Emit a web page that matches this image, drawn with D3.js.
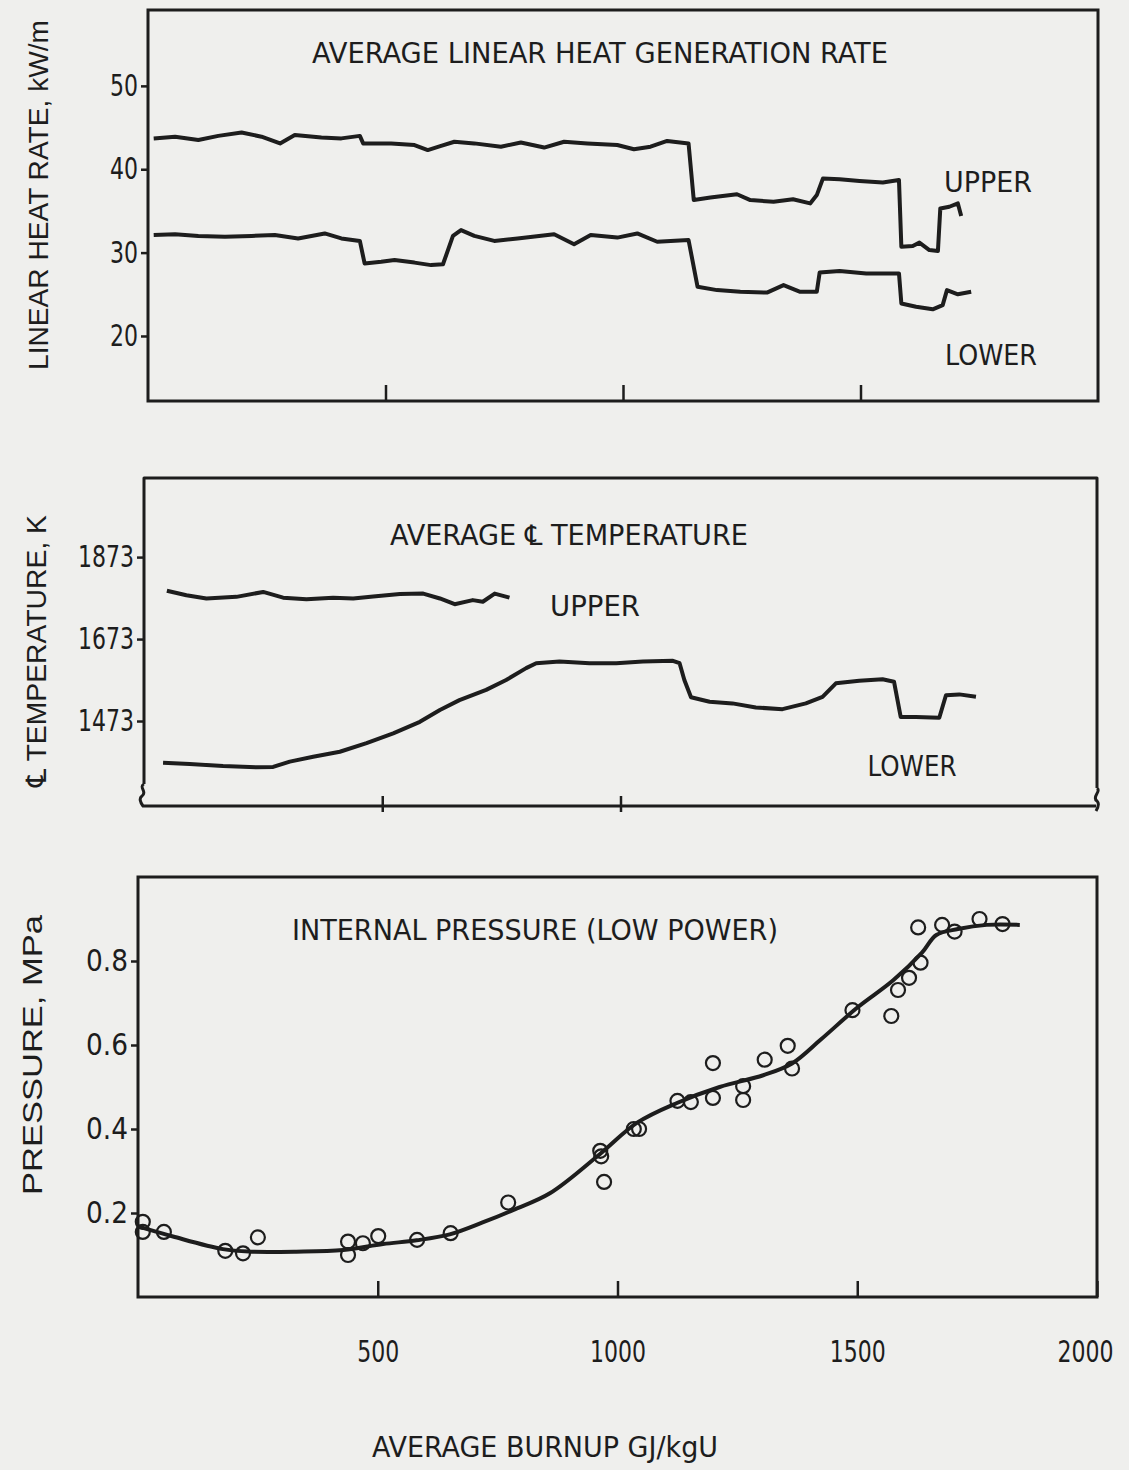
<!DOCTYPE html>
<html>
<head>
<meta charset="utf-8">
<script src="https://cdn.jsdelivr.net/npm/d3@7"></script>
<style>
  body { margin: 0; background: #efefed; }
  svg text { fill: #1d1d1d; }
</style>
</head>
<body>
<div id="chart"></div>
<script>
const W = 1129, H = 1470;
const ink = "#1d1d1d";
const narrow = "'Liberation Sans Narrow', 'DejaVu Sans Condensed', sans-serif";
const wide = "'Liberation Sans', 'DejaVu Sans', sans-serif";

// tick values
const xTicks = [500, 1000, 1500, 2000];
const heatTicks = [20, 30, 40, 50];
const tempTicks = [1473, 1673, 1873];
const pressTicks = [0.2, 0.4, 0.6, 0.8];

// linear heat rate (kW/m) vs burnup (GJ/kgU)
const heatUpper = [
  [12, 43.7], [57, 43.9], [106, 43.5], [148, 44.0], [197, 44.4], [239, 43.9], [278, 43.1],
  [309, 44.1], [365, 43.8], [407, 43.7], [446, 44.0], [453, 43.1], [512, 43.1], [561, 42.9],
  [589, 42.3], [617, 42.8], [645, 43.3], [687, 43.1], [743, 42.7], [785, 43.2], [834, 42.6],
  [876, 43.3], [925, 43.1], [988, 42.9], [1023, 42.4], [1058, 42.7], [1093, 43.4], [1138, 43.1],
  [1149, 36.3], [1184, 36.6], [1240, 37.0], [1268, 36.3], [1317, 36.1], [1358, 36.4], [1394, 35.9],
  [1408, 36.9], [1421, 38.9], [1456, 38.8], [1498, 38.6], [1547, 38.4], [1581, 38.7],
  [1586, 30.7], [1610, 30.8], [1624, 31.2], [1645, 30.3], [1663, 30.2],
  [1668, 35.3], [1687, 35.5], [1705, 35.9], [1712, 34.4]
];
const heatLower = [
  [12, 32.1], [57, 32.2], [106, 32.0], [162, 31.9], [218, 32.0], [267, 32.1], [316, 31.7],
  [372, 32.3], [407, 31.7], [446, 31.4], [456, 28.7], [491, 28.9], [519, 29.1], [561, 28.8],
  [596, 28.5], [621, 28.6], [642, 32.0], [659, 32.7], [687, 32.0], [729, 31.4], [778, 31.7],
  [855, 32.2], [897, 31.0], [932, 32.1], [988, 31.8], [1030, 32.3], [1072, 31.3], [1138, 31.5],
  [1157, 25.9], [1198, 25.5], [1247, 25.3], [1303, 25.2], [1338, 26.1], [1373, 25.3], [1408, 25.3],
  [1414, 27.6], [1456, 27.8], [1512, 27.5], [1581, 27.5], [1586, 23.9], [1617, 23.5],
  [1652, 23.2], [1673, 23.7], [1682, 25.5], [1705, 25.0], [1733, 25.3]
];

// centreline temperature (K) vs burnup
const tempUpper = [
  [48, 1791], [89, 1780], [131, 1772], [194, 1776], [250, 1788], [292, 1774], [341, 1770],
  [397, 1774], [439, 1772], [481, 1777], [537, 1783], [586, 1784], [621, 1772], [652, 1758],
  [690, 1768], [711, 1764], [736, 1784], [767, 1774]
];
const tempLower = [
  [40, 1371], [96, 1368], [166, 1363], [236, 1360], [271, 1361], [306, 1374], [355, 1386],
  [411, 1398], [467, 1419], [523, 1443], [579, 1471], [621, 1500], [662, 1524], [718, 1549],
  [760, 1573], [802, 1602], [823, 1614], [872, 1618], [935, 1614], [991, 1614], [1047, 1618],
  [1110, 1620], [1124, 1614], [1134, 1573], [1148, 1531], [1187, 1520], [1235, 1516],
  [1284, 1506], [1340, 1502], [1389, 1516], [1424, 1532], [1452, 1565], [1501, 1571],
  [1550, 1575], [1574, 1569], [1588, 1483], [1620, 1483], [1669, 1481], [1683, 1536],
  [1711, 1538], [1746, 1532]
];

// internal pressure (MPa): measurements and fitted curve
const pressPoints = [
  [10, 0.179], [10, 0.155], [54, 0.155], [182, 0.110], [219, 0.104], [250, 0.142],
  [438, 0.132], [438, 0.100], [469, 0.128], [501, 0.145], [582, 0.136], [652, 0.152],
  [772, 0.225], [964, 0.348], [966, 0.335], [972, 0.274], [1034, 0.400], [1045, 0.400],
  [1125, 0.467], [1153, 0.464], [1199, 0.557], [1199, 0.474], [1262, 0.502], [1262, 0.469],
  [1307, 0.565], [1355, 0.598], [1364, 0.544], [1490, 0.683], [1571, 0.669], [1585, 0.731],
  [1608, 0.760], [1632, 0.796], [1627, 0.880], [1677, 0.886], [1703, 0.870], [1755, 0.900],
  [1803, 0.888]
];
const pressFit = [
  [0, 0.168], [73, 0.144], [177, 0.114], [233, 0.108], [330, 0.108], [428, 0.112],
  [511, 0.126], [581, 0.135], [650, 0.149], [720, 0.178], [782, 0.207], [859, 0.247],
  [963, 0.340], [1041, 0.415], [1124, 0.462], [1213, 0.500], [1304, 0.528], [1364, 0.556],
  [1424, 0.613], [1499, 0.688], [1575, 0.754], [1635, 0.820], [1665, 0.862], [1710, 0.876],
  [1770, 0.886], [1839, 0.886]
];

const svg = d3.select("#chart").append("svg")
    .attr("width", W)
    .attr("height", H)
    .style("background", "#efefed");

// three stacked panels sharing the burnup axis
const x1 = d3.scaleLinear().domain([0, 2000]).range([148, 1098]);
const y1 = d3.scaleLinear().domain([12.2, 59.1]).range([401, 10]);
const x2 = d3.scaleLinear().domain([0, 2000]).range([144, 1097]);
const y2 = d3.scaleLinear().domain([1251, 2066]).range([812, 478]);
const x3 = d3.scaleLinear().domain([0, 2000]).range([138, 1097]);
const y3 = d3.scaleLinear().domain([0, 1]).range([1297, 877]);

function styleAxis(g, size) {
    g.select(".domain").remove();
    g.selectAll("line").attr("stroke", ink).attr("stroke-width", 2.5);
    g.selectAll("text")
        .attr("font-family", narrow)
        .attr("font-size", size)
        .attr("fill", ink)
        // squeeze digits to the condensed look of the original
        .each(function () {
            const s = this.textContent;
            if (s) d3.select(this).attr("textLength", s.length * 14).attr("lengthAdjust", "spacingAndGlyphs");
        });
}

function yAxis(y, x, ticks, fmt) {
    svg.append("g")
        .attr("transform", `translate(${x.range()[0]},0)`)
        .call(d3.axisLeft(y).tickValues(ticks).tickSize(7).tickPadding(3).tickFormat(fmt))
        .call(g => styleAxis(g, 30));
}

function xAxis(x, y, ticks, labels) {
    svg.append("g")
        .attr("transform", `translate(0,${y.range()[0]})`)
        .call(d3.axisBottom(x).tickValues(ticks).tickSize(-16).tickPadding(44)
            .tickFormat(labels ? d3.format("d") : () => ""))
        .call(g => styleAxis(g, 30))
        .call(g => g.selectAll("text").filter(d => d === 2000).attr("dx", -12));
}

function frame(x, y) {
    svg.append("rect")
        .attr("x", x.range()[0])
        .attr("y", y.range()[1])
        .attr("width", x.range()[1] - x.range()[0])
        .attr("height", y.range()[0] - y.range()[1])
        .attr("fill", "none")
        .attr("stroke", ink)
        .attr("stroke-width", 3);
}

function trace(data, x, y, curve) {
    svg.append("path")
        .datum(data)
        .attr("fill", "none")
        .attr("stroke", ink)
        .attr("stroke-width", 4)
        .attr("stroke-linejoin", "round")
        .attr("d", d3.line().x(d => x(d[0])).y(d => y(d[1])).curve(curve || d3.curveLinear));
}

function label(txt, px, py, opts) {
    const t = svg.append("text")
        .attr("x", px)
        .attr("y", py)
        .attr("text-anchor", "middle")
        .attr("font-family", (opts && opts.font) || narrow)
        .attr("font-size", (opts && opts.size) || 28)
        .attr("fill", ink)
        .text(txt);
    if (opts && opts.len) t.attr("textLength", opts.len).attr("lengthAdjust", "spacingAndGlyphs");
    if (opts && opts.rotate) t.attr("transform", `rotate(-90,${px},${py})`);
    return t;
}

// ---- panel 1: linear heat generation rate
frame(x1, y1);
yAxis(y1, x1, heatTicks, d3.format("d"));
xAxis(x1, y1, xTicks.slice(0, 3), false);
trace(heatUpper, x1, y1);
trace(heatLower, x1, y1);
label("AVERAGE LINEAR HEAT GENERATION RATE", 600, 63, { len: 576 });
label("UPPER", 988, 192, { len: 88 });
label("LOWER", 991, 365, { len: 92 });
label("LINEAR HEAT RATE, kW/m", 48, 195, { font: wide, size: 28, len: 350, rotate: true });

// ---- panel 2: centreline temperature, with broken frame at the bottom corners
const L2 = x2.range()[0], R2 = x2.range()[1], T2 = y2.range()[1], B2 = y2.range()[0];
svg.append("path")
    .attr("fill", "none")
    .attr("stroke", ink)
    .attr("stroke-width", 3)
    .attr("stroke-linejoin", "round")
    .attr("d", `M${L2},${B2 - 28} V${T2} H${R2} V${B2 - 24}
                M${R2},${B2 - 24} c5,3 -6,9 0,13 c2,2 2,5 -1,10
                M${L2},${B2 - 28} c-6,3 4,8 -2,12 c-3,2 -2,6 1,10 H${R2 - 1}`);
yAxis(y2, x2, tempTicks, d3.format("d"));
xAxis(x2, y2, xTicks.slice(0, 2), false);
trace(tempUpper, x2, y2);
trace(tempLower, x2, y2);
label("AVERAGE \u2104 TEMPERATURE", 569, 545, { len: 358 });
label("UPPER", 595, 616, { len: 90 });
label("LOWER", 912, 776, { len: 89 });
label("\u2104 TEMPERATURE, K", 46, 651, { font: wide, size: 28, len: 272, rotate: true });

// ---- panel 3: internal pressure
frame(x3, y3);
yAxis(y3, x3, pressTicks, d3.format(".1f"));
xAxis(x3, y3, xTicks, true);
trace(pressFit, x3, y3, d3.curveCatmullRom.alpha(0.5));
svg.append("g").selectAll("circle")
    .data(pressPoints)
    .join("circle")
    .attr("cx", d => x3(d[0]))
    .attr("cy", d => y3(d[1]))
    .attr("r", 7)
    .attr("fill", "none")
    .attr("stroke", ink)
    .attr("stroke-width", 2.2);
label("INTERNAL PRESSURE (LOW POWER)", 535, 940, { len: 486 });
label("PRESSURE, MPa", 42, 1055, { font: wide, size: 28, len: 280, rotate: true });
label("AVERAGE BURNUP GJ/kgU", 545, 1457, { len: 346 });
</script>
</body>
</html>
